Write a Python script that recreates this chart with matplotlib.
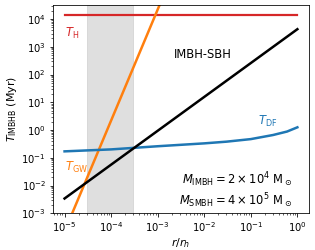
import matplotlib
matplotlib.use("Agg")
import matplotlib.pyplot as plt

# r / r_h sample points
r_line = [1e-5, 1e0]
t_hubble = [1.4e4, 1.4e4]
t_sbh = [3.4e-3, 4.3e3]

r_gw = [1e-5, 1e-3, 1e-2]
t_gw = [2.2e-4, 2.2e4, 2.2e8]

r_df = [1e-5, 1e-4, 1e-3, 1e-2, 3e-2, 1e-1, 3e-1, 6e-1, 1e0]
t_df = [0.17, 0.20, 0.26, 0.33, 0.38, 0.47, 0.66, 0.88, 1.25]

shade = (3e-5, 3e-4)

fig, ax = plt.subplots(figsize=(315 / 72, 250 / 72), dpi=72)
fig.subplots_adjust(left=0.168, right=0.981, top=0.98, bottom=0.147)

ax.axvspan(shade[0], shade[1], color='gray', alpha=0.25, lw=0.8)
ax.plot(r_line, t_hubble, color='tab:red', lw=2.2)
ax.plot(r_gw, t_gw, color='tab:orange', lw=2.5)
ax.plot(r_df, t_df, color='tab:blue', lw=2.5)
ax.plot(r_line, t_sbh, color='black', lw=2.5)

ax.set_xscale('log')
ax.set_yscale('log')
ax.set_xlim(10**-5.25, 10**0.25)
ax.set_ylim(1e-3, 3.2e4)
ax.tick_params(labelsize=10)

ax.set_xlabel(r'$r/r_h$', fontsize=11, labelpad=2)
ax.set_ylabel(r'$T_{\rm IMBHB}$ (Myr)', fontsize=11, labelpad=2)

ax.text(1e-5, 3e3, r'$T_{\rm H}$', color='tab:red', fontsize=11.5, va='center')
ax.text(1e-5, 0.045, r'$T_{\rm GW}$', color='tab:orange', fontsize=11.5, va='center')
ax.text(0.14, 2.1, r'$T_{\rm DF}$', color='tab:blue', fontsize=11.5, va='center')
ax.text(0.586, 0.764, 'IMBH-SBH', transform=ax.transAxes, fontsize=11.5,
        ha='center', va='center')
ax.text(0.934, 0.163, r'$M_{\rm IMBH} = 2\times10^4\ {\rm M}_\odot$',
        transform=ax.transAxes, fontsize=11.5, ha='right', va='center')
ax.text(0.934, 0.0625, r'$M_{\rm SMBH} = 4\times10^5\ {\rm M}_\odot$',
        transform=ax.transAxes, fontsize=11.5, ha='right', va='center')

plt.savefig('out.png')
